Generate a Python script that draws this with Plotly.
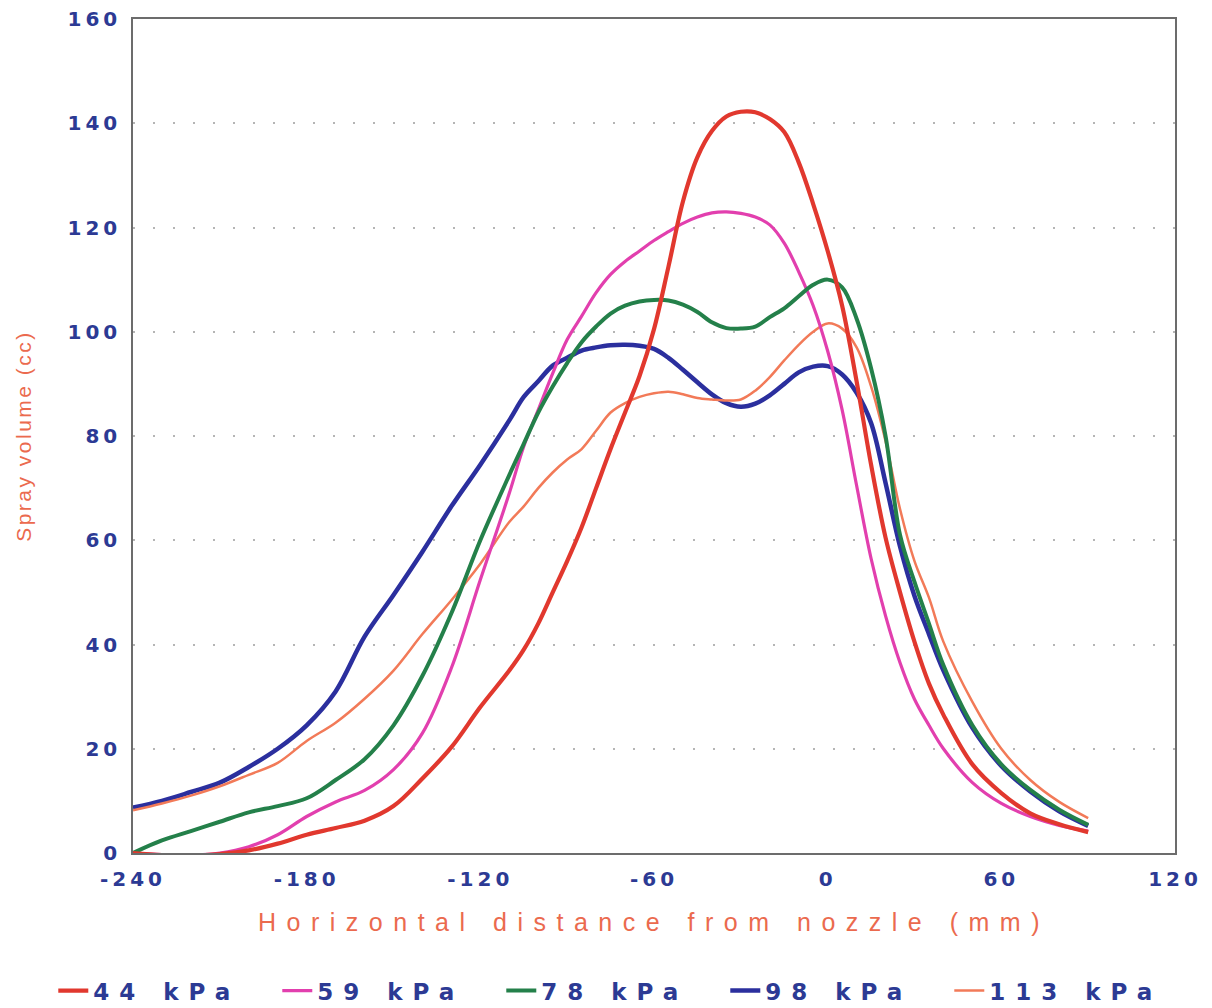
import plotly.graph_objects as go

# Horizontal distance from the nozzle (mm)
distance_mm = [-240, -230, -220, -210, -200, -190, -180, -170, -160, -150, -140, -130, -120, -110,
               -105, -100, -95, -90, -85, -80, -75, -70, -65, -60, -55, -50, -45, -40, -35, -30,
               -25, -20, -15, -10, -5, 0, 5, 10, 15, 20, 25, 30, 35, 40, 50, 60, 70, 80, 90]

# Spray volume (cc) collected at each distance, one series per operating pressure
vol_44kpa = [0, -0.4, -0.5, -0.2, 0.5, 1.8, 3.5, 4.8, 6.2, 9, 14.3, 20.3, 28, 35,
             39, 44, 50, 56, 62.5, 70, 77.5, 84.5, 91.5, 100.5, 112.5, 125, 133.5, 138.5, 141.3, 142.2,
             142.1, 140.8, 138.3, 132.5, 124.5, 115.5, 105, 90.5, 74.5, 60.5, 50, 40.5, 32.5, 26.5, 17, 11.5, 7.6, 5.5, 4]

vol_59kpa = [0, -0.3, -0.4, 0, 1.2, 3.5, 7, 9.8, 12, 16, 23, 35.5, 52.4, 69,
             78, 85, 92, 98.5, 103, 107.5, 111, 113.5, 115.5, 117.5, 119.2, 120.8, 122, 122.8, 123, 122.7,
             122, 120.5, 117, 111.5, 105, 96.3, 85, 70.5, 56.5, 45.5, 36.5, 29.5, 24.5, 20, 13.5, 9.5, 7, 5.3, 4.2]

vol_78kpa = [0, 2.4, 4.2, 6, 7.8, 9, 10.5, 14, 18, 24.5, 34, 46, 60, 72.5,
             78.5, 84.5, 89.5, 94, 98, 101, 103.5, 105, 105.8, 106.1, 106, 105.2, 103.8, 101.8, 100.7, 100.6,
             101, 102.8, 104.5, 106.8, 109, 110, 108.5, 102.5, 93, 80, 61, 52, 44, 36, 24.5, 17, 12.1, 8.3, 5.4]

vol_98kpa = [8.7, 10, 11.7, 13.5, 16.5, 20, 24.5, 31, 41.5, 49.5, 57.8, 66.5, 74.5, 83,
             87.5, 90.5, 93.5, 95, 96.4, 97, 97.4, 97.5, 97.3, 96.7, 95, 92.7, 90.3, 88, 86.3, 85.6,
             86.2, 87.8, 90, 92.2, 93.3, 93.4, 91.8, 88.3, 82.5, 71, 58.8, 49.3, 42, 35, 24, 16.7, 11.8, 8, 5.2]

vol_113kpa = [8.2, 9.5, 11, 12.8, 15, 17.3, 21.5, 25, 29.6, 35, 42, 48.5, 55.5, 63.5,
              66.5, 70, 73, 75.5, 77.5, 81, 84.5, 86.3, 87.5, 88.2, 88.5, 88, 87.3, 87, 86.8, 87,
              88.7, 91.3, 94.5, 97.5, 100, 101.6, 100.6, 97, 89.5, 79, 66, 56, 49, 40.5, 29, 20, 14, 9.8, 6.7]

pressure_labels = ["44 kPa", "59 kPa", "78 kPa", "98 kPa", "113 kPa"]

x_ticks = [-240, -180, -120, -60, 0, 60, 120]
y_ticks = [0, 20, 40, 60, 80, 100, 120, 140, 160]

TICK_BLUE = "#2c3a94"
TITLE_ORANGE = "#eb6a4e"
FONT = "DejaVu Sans"


def spaced(text, px):
    return f'<span style="letter-spacing:{px}px">{text}</span>'


# (values, label, colour, width, legend position); drawn back to front
series = [
    (vol_98kpa, pressure_labels[3], "#2b2f9e", 4.5, 4),
    (vol_113kpa, pressure_labels[4], "#f27a58", 2.5, 5),
    (vol_59kpa, pressure_labels[1], "#e23fae", 3.2, 2),
    (vol_78kpa, pressure_labels[2], "#24804a", 4.0, 3),
    (vol_44kpa, pressure_labels[0], "#e1382e", 4.2, 1),
]

fig = go.Figure()
for values, label, colour, width, rank in series:
    fig.add_trace(go.Scatter(
        x=distance_mm, y=values, mode="lines",
        name=spaced(label, 10),
        line=dict(color=colour, width=width, shape="spline", smoothing=1.0),
        legendrank=rank,
    ))

fig.update_layout(
    width=1212, height=1008,
    margin=dict(l=133, r=37, t=19, b=155, autoexpand=False),
    paper_bgcolor="white", plot_bgcolor="white",
    showlegend=True,
    legend=dict(
        orientation="h", xref="paper", yref="paper",
        x=-0.0765, xanchor="left", y=-0.165, yanchor="middle",
        font=dict(family=FONT, size=23, color=TICK_BLUE, weight="bold"),
        itemwidth=30, tracegroupgap=0,
        entrywidth=179, entrywidthmode="pixels",
    ),
)

fig.update_xaxes(
    range=[-240, 120], tickvals=x_ticks,
    ticktext=[spaced(str(v), 4) for v in x_ticks],
    tickfont=dict(family=FONT, size=20, color=TICK_BLUE, weight="bold"),
    ticks="", ticklabelstandoff=7,
    showgrid=False, zeroline=False,
    showline=True, mirror=True, linecolor="#6c6c6c", linewidth=1.5,
    title=dict(text=spaced("Horizontal distance from nozzle (mm)", 10.5),
               font=dict(family="Liberation Sans", size=25, color=TITLE_ORANGE),
               standoff=24),
)

fig.update_yaxes(
    range=[0, 160], tickvals=y_ticks,
    ticktext=[spaced(str(v), 4) for v in y_ticks],
    tickfont=dict(family=FONT, size=20, color=TICK_BLUE, weight="bold"),
    ticks="", ticklabelstandoff=6,
    showgrid=True, gridcolor="#b5b5b5", gridwidth=1.5, griddash="2px,18px",
    zeroline=False,
    showline=True, mirror=True, linecolor="#6c6c6c", linewidth=1.5,
    title=dict(text=spaced("Spray volume (cc)", 2.5),
               font=dict(family="Liberation Sans", size=21, color=TITLE_ORANGE),
               standoff=30),
)

fig.write_html("out.html")
